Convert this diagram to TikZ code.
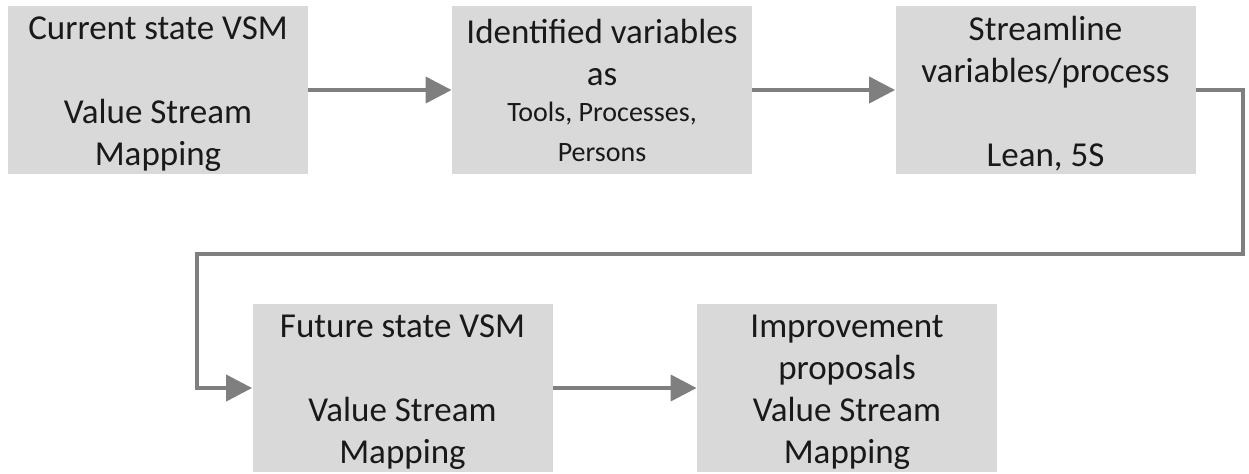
\documentclass[tikz,border=0pt]{standalone}
\usepackage{fontspec}
\setmainfont{Carlito}
\usetikzlibrary{arrows.meta}
\definecolor{boxgray}{HTML}{D9D9D9}
\definecolor{linegray}{HTML}{7F7F7F}
\tikzstyle{arrow}    = [line width=2pt, draw=linegray, -{Triangle[length=13pt,width=13pt]}]
\tikzstyle{stepbox}  = [fill=boxgray, minimum width=150pt, minimum height=84pt, inner sep=0pt, align=center, text=black!90, font=\fontsize{17.5}{21}\selectfont]
\newcommand{\smalltext}{\fontsize{14}{20}\selectfont}
\newcommand{\topstrut}{\rule{0pt}{15.5pt}}

\begin{document}
\begin{tikzpicture}[x=0.5pt,y=-0.5pt]
\useasboundingbox (0,0) rectangle (1249,473);

\node[stepbox] (S1) at (158,90)    {\topstrut Current state VSM\\[21pt]Value Stream\\Mapping};
\node[stepbox] (S2) at (602,90)    {Identified variables\\as\\[-3pt]{\smalltext Tools, Processes,}\\[-1pt]{\smalltext Persons}};
\node[stepbox] (S3) at (1045.5,90) {\topstrut Streamline\\variables/process\\[21pt]Lean, 5S};
\node[stepbox] (S4) at (402.5,388) {\topstrut Future state VSM\\[21pt]Value Stream\\Mapping};
\node[stepbox] (S5) at (847,388)   {\topstrut Improvement\\proposals\\Value Stream\\Mapping};

% loop back to the second row
\coordinate (R) at (1243,254);
\coordinate (L) at (197,254);

\draw[arrow] (S1) -- (S2);
\draw[arrow] (S2) -- (S3);
\draw[arrow] (S3.east) -| (R) -- (L) |- (S4.west);
\draw[arrow] (S4) -- (S5);

\end{tikzpicture}
\end{document}
